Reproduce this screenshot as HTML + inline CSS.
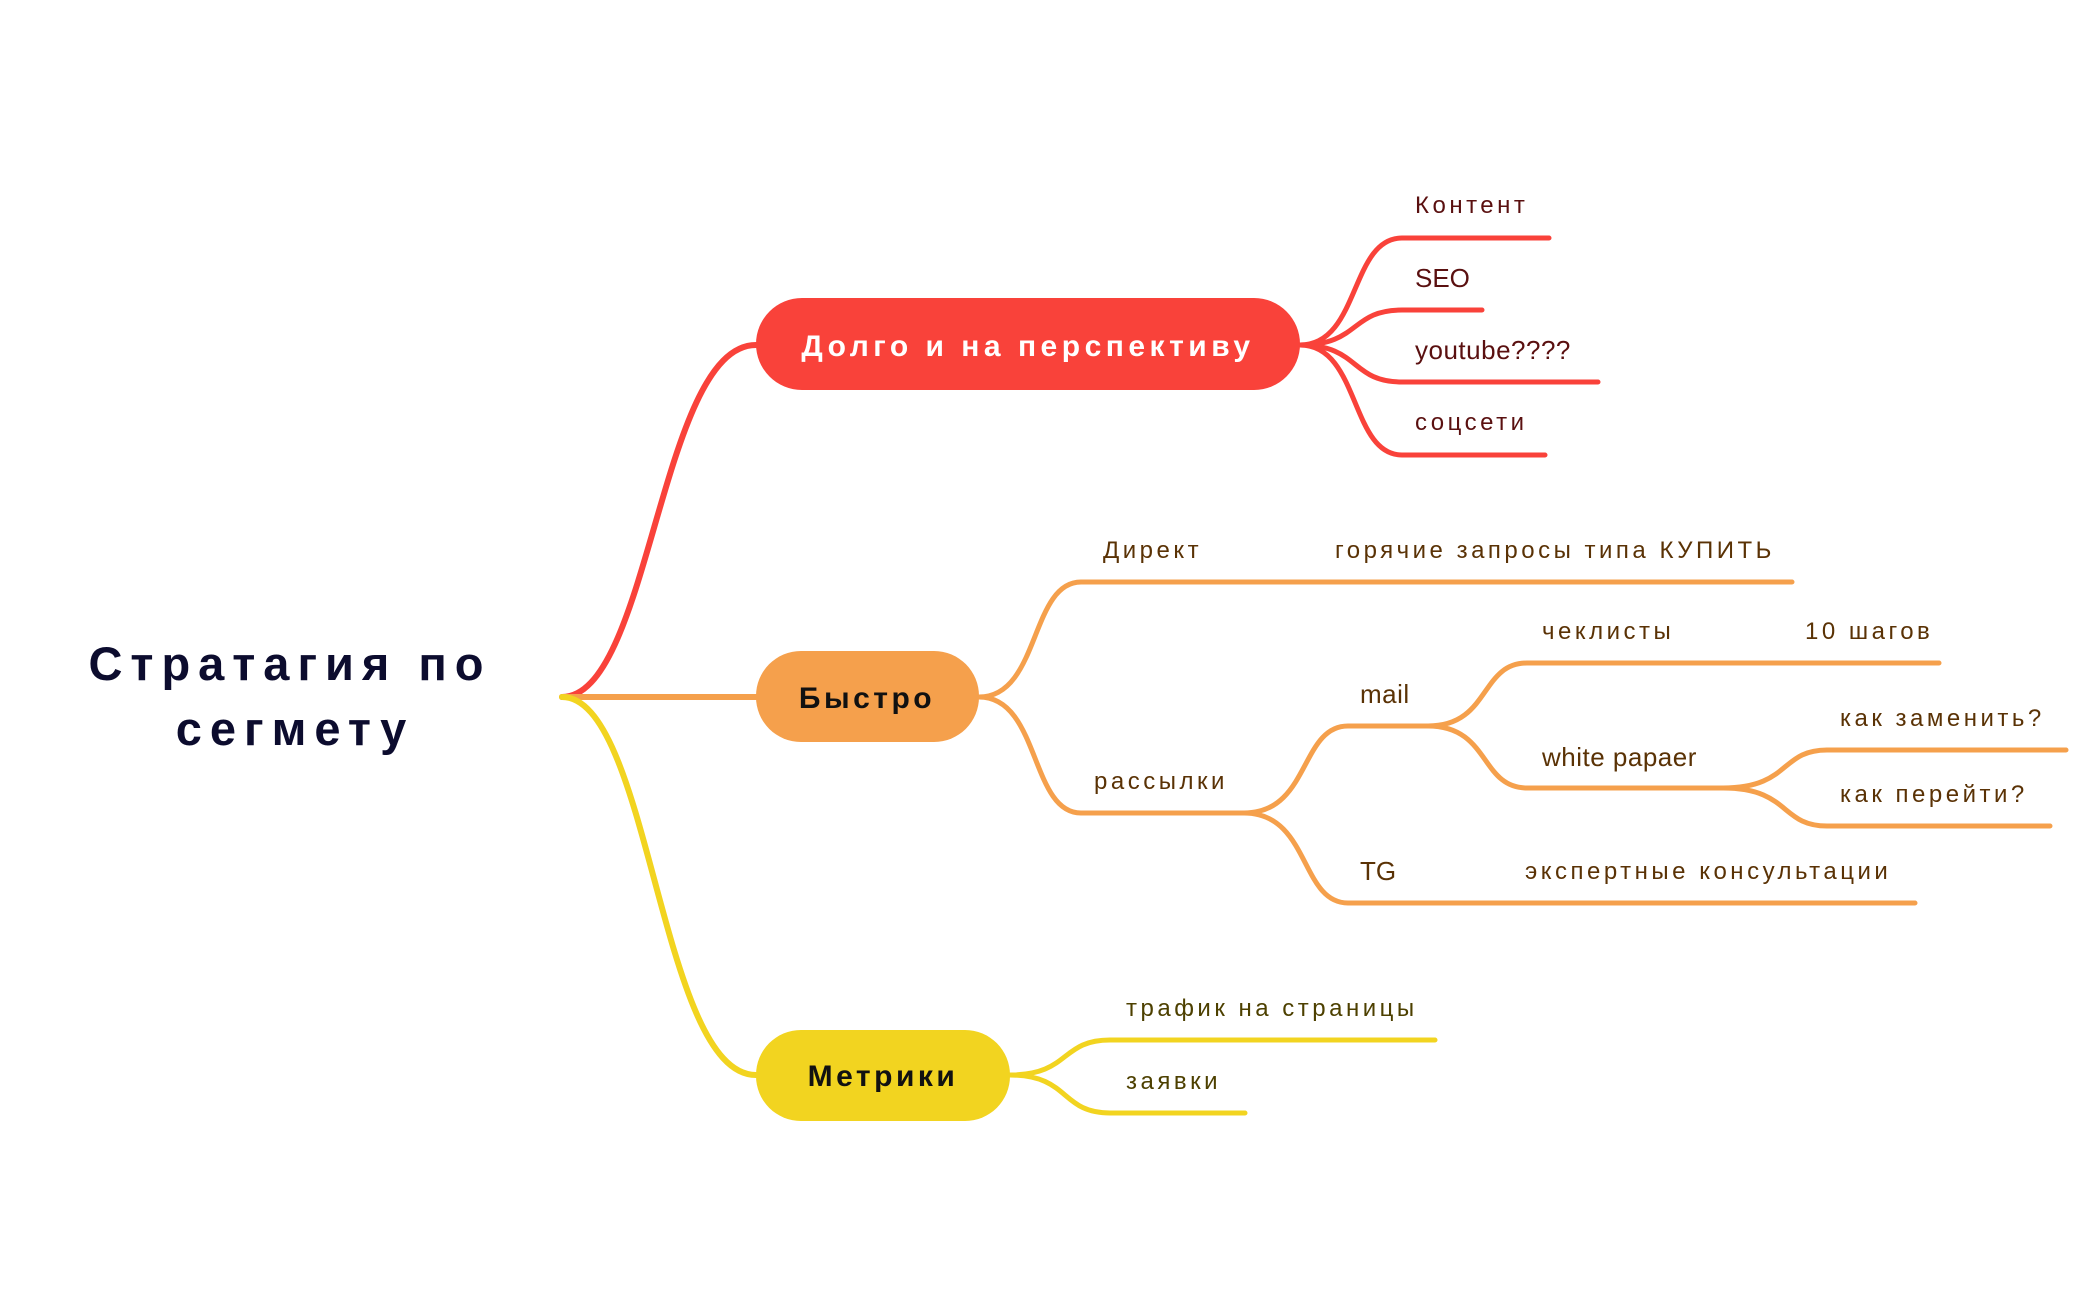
<!DOCTYPE html>
<html><head><meta charset="utf-8"><style>
html,body{margin:0;padding:0;background:#fff;}
svg{display:block}
text{font-family:"Liberation Sans","DejaVu Sans",sans-serif;}
</style></head><body>
<svg width="2097" height="1300" viewBox="0 0 2097 1300" xmlns="http://www.w3.org/2000/svg">
<g fill="none" stroke-linecap="round">
<path d="M562 697 C650 697 660 345 756 345" stroke="#f9423a" stroke-width="6"/>
<path d="M562 697 L756 697" stroke="#f5a04c" stroke-width="6"/>
<path d="M562 697 C650 697 660 1075 756 1075" stroke="#f2d420" stroke-width="6"/>
<g stroke="#f9423a" stroke-width="5">
<path d="M1300 345 C1360 345 1350 238 1402 238 L1549 238"/>
<path d="M1300 345 C1360 345 1350 310 1402 310 L1482 310"/>
<path d="M1300 345 C1360 345 1350 382 1402 382 L1598 382"/>
<path d="M1300 345 C1360 345 1350 455 1402 455 L1545 455"/>
</g>
<g stroke="#f5a04c" stroke-width="5">
<path d="M979 697 C1040 697 1030 582 1081 582 L1792 582"/>
<path d="M979 697 C1040 697 1030 813 1081 813 L1244 813"/>
<path d="M1244 813 C1310 813 1300 726 1348 726 L1428 726"/>
<path d="M1244 813 C1310 813 1300 903 1348 903 L1915 903"/>
<path d="M1428 726 C1490 726 1480 663 1527 663 L1939 663"/>
<path d="M1428 726 C1490 726 1480 788 1527 788 L1723 788"/>
<path d="M1723 788 C1790 788 1780 750 1827 750 L2066 750"/>
<path d="M1723 788 C1790 788 1780 826 1827 826 L2050 826"/>
</g>
<g stroke="#f2d420" stroke-width="5">
<path d="M1010 1075 C1070 1075 1060 1040 1110 1040 L1435 1040"/>
<path d="M1010 1075 C1070 1075 1060 1113 1110 1113 L1245 1113"/>
</g>
</g>
<rect x="756" y="298" width="544" height="92" rx="46" fill="#f9423a"/>
<rect x="756" y="651" width="223" height="91" rx="45" fill="#f5a04c"/>
<rect x="756" y="1030" width="254" height="91" rx="45" fill="#f2d420"/>
<text x="1028" y="356" text-anchor="middle" font-size="30" font-weight="bold" fill="#fff" letter-spacing="4.5">Долго и на перспективу</text>
<text x="867" y="708" text-anchor="middle" font-size="30" font-weight="bold" fill="#111" letter-spacing="3.5">Быстро</text>
<text x="883" y="1086" text-anchor="middle" font-size="30" font-weight="bold" fill="#111" letter-spacing="3.5">Метрики</text>
<text x="290" y="680" text-anchor="middle" font-size="47" font-weight="bold" fill="#0c0c2e" letter-spacing="8">Стратагия по</text>
<text x="295" y="745" text-anchor="middle" font-size="47" font-weight="bold" fill="#0c0c2e" letter-spacing="8">сегмету</text>
<g fill="#5a1010" font-size="24" letter-spacing="3.5">
<text x="1415" y="213">Контент</text>
<text x="1415" y="287" font-size="26" letter-spacing="0">SEO</text>
<text x="1415" y="359" font-size="26" letter-spacing="0.5">youtube????</text>
<text x="1415" y="430">соцсети</text>
</g>
<g fill="#5a3205" font-size="24" letter-spacing="3.5">
<text x="1103" y="558">Директ</text>
<text x="1335" y="558">горячие запросы типа КУПИТЬ</text>
<text x="1094" y="789">рассылки</text>
<text x="1360" y="703" font-size="26" letter-spacing="0.5">mail</text>
<text x="1360" y="880" font-size="26" letter-spacing="0">TG</text>
<text x="1525" y="879">экспертные консультации</text>
<text x="1542" y="639">чеклисты</text>
<text x="1805" y="639">10 шагов</text>
<text x="1542" y="766" font-size="26" letter-spacing="0.5">white papaer</text>
<text x="1840" y="726">как заменить?</text>
<text x="1840" y="802">как перейти?</text>
</g>
<g fill="#4d4000" font-size="24" letter-spacing="3.5">
<text x="1126" y="1016">трафик на страницы</text>
<text x="1126" y="1089">заявки</text>
</g>
</svg>
</body></html>
